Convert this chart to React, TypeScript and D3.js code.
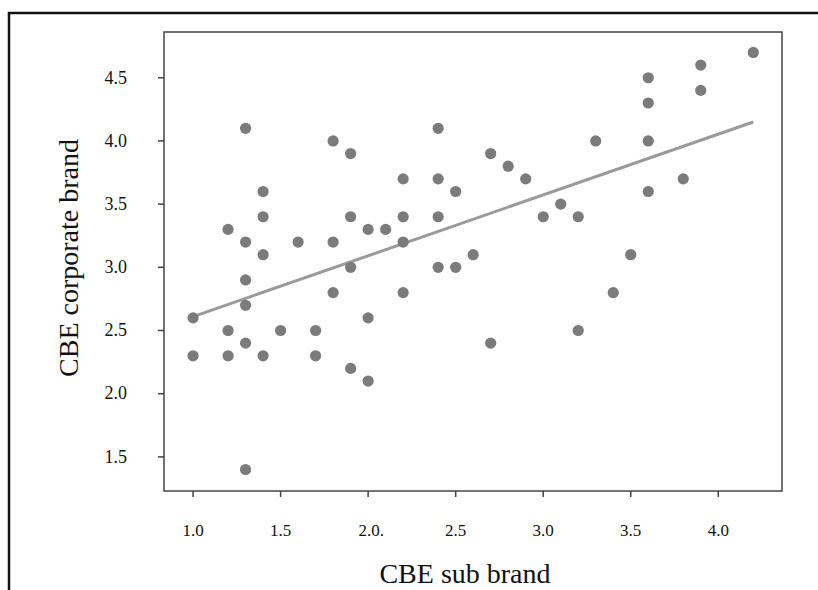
import { line, scaleLinear } from "d3";
import React from "react";

// CBE sub brand (x) vs CBE corporate brand (y)
const subBrand = [
  1.0, 1.0, 1.2, 1.2, 1.2, 1.3, 1.3, 1.3, 1.3, 1.3, 1.3, 1.4, 1.4, 1.4, 1.4,
  1.5, 1.6, 1.7, 1.7, 1.8, 1.8, 1.8, 1.9, 1.9, 1.9, 1.9, 2.0, 2.0, 2.0, 2.1,
  2.2, 2.2, 2.2, 2.2, 2.4, 2.4, 2.4, 2.4, 2.5, 2.5, 2.6, 2.7, 2.7, 2.8, 2.9,
  3.0, 3.1, 3.2, 3.2, 3.3, 3.4, 3.5, 3.6, 3.6, 3.6, 3.6, 3.8, 3.9, 3.9, 4.2,
];
const corporateBrand = [
  2.6, 2.3, 3.3, 2.5, 2.3, 4.1, 3.2, 2.9, 2.7, 2.4, 1.4, 3.6, 3.4, 3.1, 2.3,
  2.5, 3.2, 2.5, 2.3, 4.0, 3.2, 2.8, 3.9, 3.4, 3.0, 2.2, 3.3, 2.6, 2.1, 3.3,
  3.7, 3.4, 3.2, 2.8, 4.1, 3.7, 3.4, 3.0, 3.6, 3.0, 3.1, 3.9, 2.4, 3.8, 3.7,
  3.4, 3.5, 3.4, 2.5, 4.0, 2.8, 3.1, 4.5, 4.3, 4.0, 3.6, 3.7, 4.6, 4.4, 4.7,
];

// fitted line end points
const fitX = [1.0, 4.2];
const fitY = [2.61, 4.15];

const xTicks = [1.0, 1.5, 2.0, 2.5, 3.0, 3.5, 4.0];
const xTickLabels = ["1.0", "1.5", "2.0.", "2.5", "3.0", "3.5", "4.0"];
const yTicks = [1.5, 2.0, 2.5, 3.0, 3.5, 4.0, 4.5];
const yTickLabels = ["1.5", "2.0", "2.5", "3.0", "3.5", "4.0", "4.5"];

export default function App() {
  const width = 818;
  const height = 590;
  const left = 164;
  const right = 782;
  const top = 32;
  const bottom = 491;

  const xScale = scaleLinear().domain([0.834, 4.364]).range([left, right]);
  const yScale = scaleLinear().domain([1.23, 4.862]).range([bottom, top]);

  const fitLine = line<number>()
    .x((d) => xScale(d))
    .y((d, i) => yScale(fitY[i]));

  const font = "'Liberation Serif', 'Times New Roman', serif";

  return (
    <svg
      width={width}
      height={height}
      style={{ position: "absolute", left: 0, top: 0, background: "#fff" }}
      fontFamily={font}
    >
      {/* outer frame, open on right and bottom */}
      <path d={`M9,${height} L9,13 L${width},13`} fill="none" stroke="#111" strokeWidth={2.5} />

      {/* plot box */}
      <rect
        x={left}
        y={top}
        width={right - left}
        height={bottom - top}
        fill="none"
        stroke="#444"
        strokeWidth={1.5}
      />

      {xTicks.map((t, i) => (
        <g key={"x" + t}>
          <line x1={xScale(t)} x2={xScale(t)} y1={bottom} y2={bottom + 6} stroke="#444" strokeWidth={1.5} />
          <text x={xScale(t) + (xTickLabels[i].length > 3 ? 3 : 0)} y={536} fontSize={17} textAnchor="middle" fill="#111">
            {xTickLabels[i]}
          </text>
        </g>
      ))}

      {yTicks.map((t, i) => (
        <g key={"y" + t}>
          <line x1={left - 6} x2={left} y1={yScale(t)} y2={yScale(t)} stroke="#444" strokeWidth={1.5} />
          <text x={127} y={yScale(t)} dy="0.32em" fontSize={18} textAnchor="end" fill="#111">
            {yTickLabels[i]}
          </text>
        </g>
      ))}

      <path d={fitLine(fitX) ?? ""} fill="none" stroke="#9a9a9a" strokeWidth={3} />

      {subBrand.map((x, i) => (
        <circle key={i} cx={xScale(x)} cy={yScale(corporateBrand[i])} r={5.6} fill="#7b7b7b" />
      ))}

      <text x={465} y={583} fontSize={28} textAnchor="middle" fill="#111">
        CBE sub brand
      </text>
      <text
        transform={`translate(78,258) rotate(-90)`}
        fontSize={28}
        textAnchor="middle"
        fill="#111"
      >
        CBE corporate brand
      </text>
    </svg>
  );
}
